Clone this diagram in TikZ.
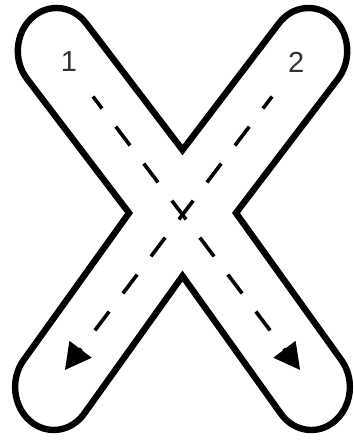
\documentclass[tikz,border=0pt]{standalone}
\usepackage{fontspec}
\setmainfont{Liberation Sans}
\usetikzlibrary{arrows.meta}

\begin{document}
\begin{tikzpicture}[x=0.45pt,y=-0.5pt,
  outline/.style={line width=3.2pt,line join=miter},
  route/.style={line width=1.8pt,dash pattern=on 11.8pt off 11.4pt,dash phase=4.3pt,
    -{Triangle[length=13pt,width=13.5pt]}},
  digit/.style={font=\fontsize{14.5}{16}\selectfont,text=black!80,inner sep=0pt}]
\useasboundingbox (0,0) rectangle (393.3,440);
% ---------- outline of the X ----------
\draw[outline] (202.8,150) -- (95.64,23.24)
  arc[start angle=-40.2,end angle=-220.2,radius=43] -- (143.4,213)
  -- (26.15,360.22) arc[start angle=-141.46,end angle=-321.56,radius=43] -- (202.8,276)
  -- (312.11,413.73) arc[start angle=141.56,end angle=-38.54,radius=43] -- (262.2,213)
  -- (375.64,78.76) arc[start angle=40.2,end angle=-139.8,radius=43] -- cycle;
% ---------- stroke order ----------
\coordinate (s1) at (103.3,96.5);
\coordinate (e1) at (333.5,370);
\coordinate (s2) at (302.3,96.5);
\coordinate (e2) at (72.1,370);
\draw[route] (s1) -- (e1);
\draw[route] (s2) -- (e2);
% ---------- labels ----------
\node[digit] (one) at (76.5,62) {1};
\node[digit] (two) at (329,62) {2};
\end{tikzpicture}
\end{document}
